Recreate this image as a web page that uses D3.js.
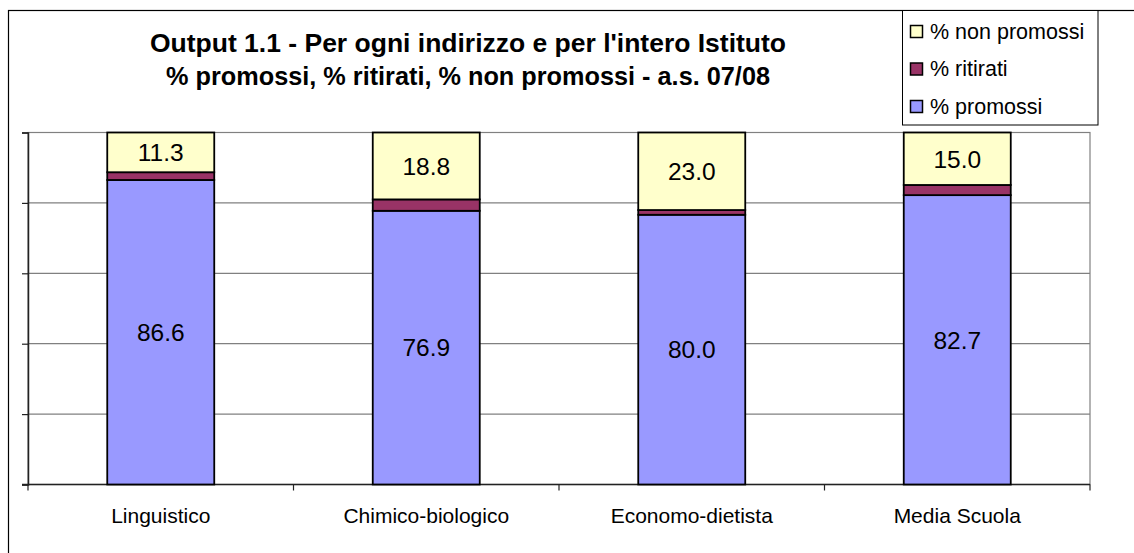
<!DOCTYPE html>
<html>
<head>
<meta charset="utf-8">
<script src="https://cdn.jsdelivr.net/npm/d3@7"></script>
<style>
  html, body { margin: 0; padding: 0; background: #fff; }
  svg { display: block; font-family: Arial, "Liberation Sans", sans-serif; }
</style>
</head>
<body>
<svg id="chart" width="1134" height="553"></svg>
<script>
// Categories (school tracks) and percentages per series
const categories = ["Linguistico", "Chimico-biologico", "Economo-dietista", "Media Scuola"];
const promossi = [86.6, 76.9, 80.0, 82.7];
const ritirati = [2.2, 3.2, 1.4, 2.9];
const nonPromossi = [11.3, 18.8, 23.0, 15.0];
const yTicks = [0, 0.2, 0.4, 0.6, 0.8, 1];

const titleLines = [
  "Output 1.1 - Per ogni indirizzo e per l'intero Istituto",
  "% promossi, % ritirati, % non promossi - a.s. 07/08"
];

const seriesKeys = ["promossi", "ritirati", "nonPromossi"];
const seriesNames = { promossi: "% promossi", ritirati: "% ritirati", nonPromossi: "% non promossi" };
const colors = { promossi: "#9999FF", ritirati: "#993366", nonPromossi: "#FFFFCC" };
const labelled = { promossi: true, ritirati: false, nonPromossi: true };

const rows = categories.map((c, i) => ({
  category: c,
  promossi: promossi[i],
  ritirati: ritirati[i],
  nonPromossi: nonPromossi[i]
}));

// 100% stacked columns
const stacked = d3.stack().keys(seriesKeys).offset(d3.stackOffsetExpand)(rows);

const svg = d3.select("#chart");
const plot = { left: 28, right: 1090, top: 132.5, bottom: 484.5 };

const x = d3.scaleBand()
  .domain(categories)
  .range([plot.left, plot.right])
  .paddingInner(0.597)
  .paddingOuter(0.2985);

const y = d3.scaleLinear().domain([0, 1]).range([plot.bottom, plot.top]);

// Chart frame
svg.append("rect")
  .attr("x", 8.5).attr("y", 10.5)
  .attr("width", 1140).attr("height", 560)
  .attr("fill", "#fff").attr("stroke", "#000").attr("stroke-width", 1.2);

// Plot area frame and gridlines
svg.append("rect")
  .attr("x", plot.left).attr("y", plot.top)
  .attr("width", plot.right - plot.left).attr("height", plot.bottom - plot.top)
  .attr("fill", "none").attr("stroke", "#808080").attr("stroke-width", 1.2);

svg.append("g")
  .selectAll("line")
  .data(yTicks)
  .join("line")
  .attr("x1", plot.left).attr("x2", plot.right)
  .attr("y1", d => y(d)).attr("y2", d => y(d))
  .attr("stroke", "#808080").attr("stroke-width", 1.2);

// Value axis (no labels, outward ticks)
const yAxis = svg.append("g")
  .attr("transform", `translate(${plot.left},0)`)
  .call(d3.axisLeft(y).tickValues(yTicks).tickSize(6).tickFormat(""));
yAxis.select(".domain").attr("stroke", "#222").attr("stroke-width", 1.5);
yAxis.selectAll(".tick line").attr("stroke", "#222").attr("stroke-width", 1.2);

// Category axis with ticks at band boundaries
const xAxis = svg.append("g")
  .attr("transform", `translate(0,${plot.bottom})`);
xAxis.append("line")
  .attr("x1", plot.left - 6).attr("x2", plot.right)
  .attr("stroke", "#222").attr("stroke-width", 1.5);
const boundaries = categories.map(c => x(c) - x.step() * x.paddingInner() / 2).concat([plot.right]);
boundaries[0] = plot.left;
xAxis.selectAll("line.tk")
  .data(boundaries)
  .join("line")
  .attr("class", "tk")
  .attr("x1", d => d).attr("x2", d => d)
  .attr("y1", 0).attr("y2", 6)
  .attr("stroke", "#222").attr("stroke-width", 1.2);
xAxis.selectAll("text")
  .data(categories)
  .join("text")
  .attr("x", d => x(d) + x.bandwidth() / 2)
  .attr("y", 38.5)
  .attr("text-anchor", "middle")
  .attr("font-size", 21)
  .attr("fill", "#000")
  .text(d => d);

// Bars
const layers = svg.append("g").selectAll("g")
  .data(stacked)
  .join("g")
  .attr("fill", d => colors[d.key]);

layers.selectAll("rect")
  .data(d => d)
  .join("rect")
  .attr("x", d => x(d.data.category))
  .attr("width", x.bandwidth())
  .attr("y", d => y(d[1]))
  .attr("height", d => y(d[0]) - y(d[1]))
  .attr("stroke", "#000")
  .attr("stroke-width", 1.8);

// Data labels
stacked.filter(s => labelled[s.key]).forEach(s => {
  svg.append("g").selectAll("text")
    .data(s)
    .join("text")
    .attr("x", d => x(d.data.category) + x.bandwidth() / 2)
    .attr("y", d => (y(d[0]) + y(d[1])) / 2)
    .attr("dy", "0.36em")
    .attr("text-anchor", "middle")
    .attr("font-size", 24.5)
    .attr("fill", "#000")
    .text(d => d3.format(".1f")(d.data[s.key]));
});

// Title
const title = svg.append("g");
const titleWidths = [636, 604];
titleLines.forEach((t, i) => {
  title.append("text")
    .attr("x", 468).attr("y", 52 + i * 33)
    .attr("text-anchor", "middle")
    .attr("font-size", 25)
    .attr("font-weight", "bold")
    .attr("textLength", titleWidths[i])
    .attr("lengthAdjust", "spacingAndGlyphs")
    .attr("fill", "#000")
    .text(t);
});

// Legend
const legend = svg.append("g");
legend.append("rect")
  .attr("x", 902.5).attr("y", 10.5)
  .attr("width", 195.5).attr("height", 114.5)
  .attr("fill", "#fff").attr("stroke", "#000").attr("stroke-width", 1);
const legendKeys = ["nonPromossi", "ritirati", "promossi"];
const items = legend.selectAll("g.item")
  .data(legendKeys)
  .join("g")
  .attr("class", "item")
  .attr("transform", (d, i) => `translate(910,${31 + i * 37.5})`);
items.append("rect")
  .attr("x", 0.5).attr("y", -5.5)
  .attr("width", 12).attr("height", 12)
  .attr("fill", d => colors[d])
  .attr("stroke", "#000").attr("stroke-width", 1.5);
items.append("text")
  .attr("x", 20).attr("y", 0)
  .attr("dy", "0.36em")
  .attr("font-size", 21.5)
  .attr("fill", "#000")
  .text(d => seriesNames[d]);
</script>
</body>
</html>
